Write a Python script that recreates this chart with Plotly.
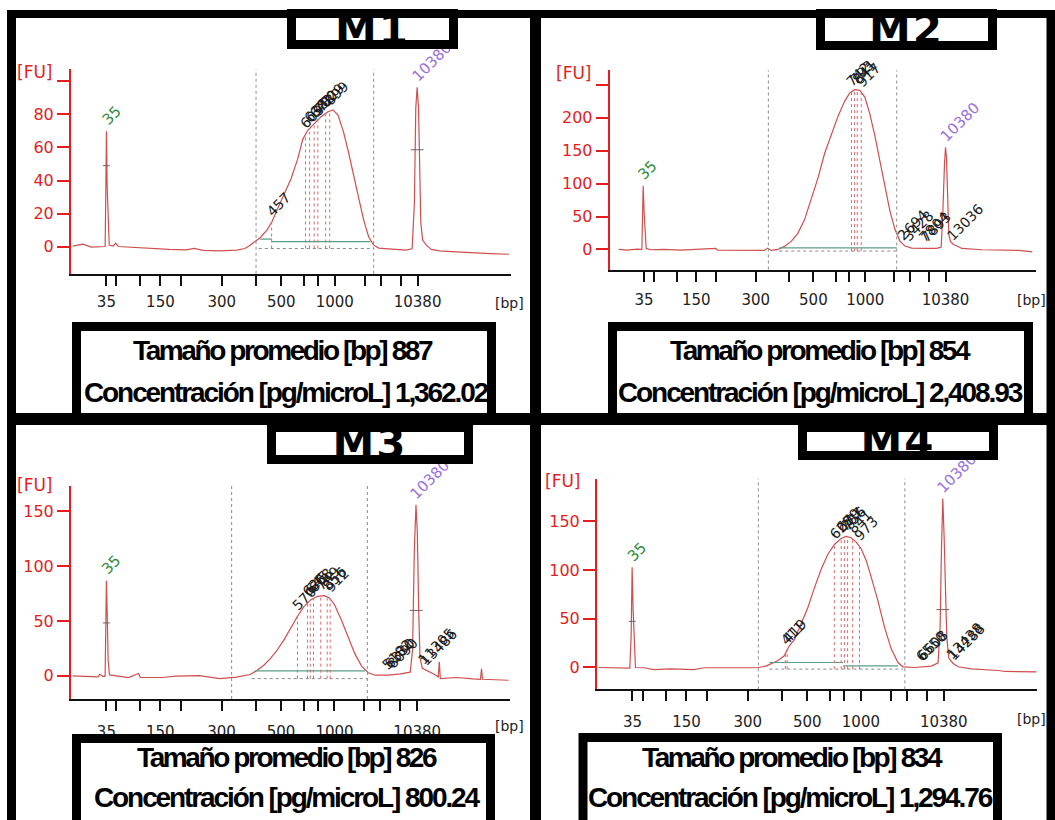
import plotly.graph_objects as go

W, H = 1055, 820

# ---------------------------------------------------------------- data ----
# DNA ladder: fragment sizes and their migration times (s)
ladder_bp = [35, 50, 100, 150, 200, 300, 400, 500, 600, 700, 1000, 2000, 3000, 7000, 10380]
ladder_time = [43.0, 45.2, 50.4, 54.8, 59.3, 68.2, 75.7, 81.2, 86.2, 89.2, 92.9, 99.4, 102.9, 107.3, 111.0]
x_tick_text = ["35", "", "", "150", "", "300", "", "500", "", "", "1000", "", "", "", "10380"]
time_range = [35.26, 131.3]

sample_names = ["M1", "M2", "M3", "M4"]
mean_size_bp = [887, 854, 826, 834]
concentration_pg_ul = [1362.02, 2408.93, 800.24, 1294.76]

# electropherogram traces: migration time (s) vs fluorescence (FU)
m1_time = [35.62, 37.84, 39.69, 41.91, 42.72, 42.87, 43.01, 43.16, 43.38, 43.61, 44.49, 45.01, 45.6,
           49.3, 53.0, 56.7, 60.4, 62.2, 64.1, 67.8, 71.5, 73.3, 74.4, 75.5, 76.6, 78.1, 79.2, 80.3,
           81.8, 83.3, 84.8, 85.9, 87.0, 88.5, 89.9, 91.4, 92.5, 93.6, 94.8, 95.9, 97.0, 98.1, 99.2,
           100.3, 101.4, 102.5, 104.7, 108.4, 109.8, 110.3, 110.6, 110.9, 111.2, 111.4, 111.7, 112.1,
           112.9, 114.0, 115.8, 119.5, 123.2, 126.9, 131.0]
m1_fu = [0.4, 1.6, -0.2, 0.2, 0.2, 34.7, 69.8, 36.7, 18.4, 1.0, 0.4, 2.2, 0.2,
         -0.4, -1.2, -1.6, -1.8, -1.0, -2.2, -2.4, -2.0, -1.0, 1.0, 3.5, 5.5, 10.2, 15.3, 22.4,
         31.6, 40.8, 53.1, 64.9, 70.4, 74.5, 78.6, 81.6, 82.7, 79.6, 69.4, 57.1, 42.9, 28.6, 16.3,
         6.1, 1.0, -0.8, -1.4, -2.0, -1.2, 26.5, 83.7, 96.3, 83.7, 42.9, 14.3, 4.1,
         1.0, -1.6, -2.4, -3.1, -3.7, -4.1, -4.5]

m2_time = [37.30, 39.19, 41.45, 42.51, 42.66, 42.81, 43.04, 43.26, 43.49, 44.47, 47.49, 51.27, 55.04,
           59.2, 59.57, 64.1, 70.15, 70.90, 71.66, 73.17, 74.68, 76.19, 77.70, 79.21, 80.72, 82.23,
           83.74, 85.25, 86.76, 88.27, 89.40, 90.53, 91.67, 92.80, 93.93, 95.06, 96.20, 97.33, 98.46,
           99.59, 100.73, 101.86, 103.37, 106.39, 109.03, 110.02, 110.39, 110.77, 111.0, 111.22,
           111.45, 111.75, 112.13, 112.81, 113.94, 114.70, 119.23, 123.0, 127.54, 130.56]
m2_fu = [0.0, -1.0, 0.5, 0.0, 48.3, 96.7, 53.4, 22.9, 1.5, -0.5, 0.0, -1.0, 0.0,
         1.5, -1.0, -1.5, -1.5, 2.0, -1.5, 0.0, 4.6, 12.2, 24.4, 45.3, 75.3, 108.4,
         146.1, 174.6, 202.5, 225.4, 237.7, 242.7, 241.7, 231.6, 206.1, 173.0, 134.9, 94.1, 58.5,
         30.5, 12.7, 5.1, 2.0, 1.5, 1.5, 3.6, 53.4, 129.8, 155.2, 140.0,
         94.1, 22.9, 11.7, 7.6, 4.1, 1.5, -0.5, -0.5, -1.5, -3.6]

m3_time = [35.62, 41.17, 41.54, 42.28, 42.72, 42.87, 43.01, 43.16, 43.38, 43.68, 46.34, 47.82, 50.04,
           50.41, 55.21, 58.17, 63.34, 67.78, 71.47, 74.43, 75.91, 77.39, 78.87, 80.34, 81.82, 83.30,
           84.78, 86.26, 87.74, 89.21, 90.69, 91.80, 92.91, 94.39, 95.87, 97.35, 98.83, 100.30,
           101.78, 104.74, 107.33, 109.47, 109.99, 110.36, 110.73, 111.02, 111.32, 111.61, 112.13,
           113.24, 114.72, 115.6, 115.83, 116.05, 119.52, 123.22, 124.84, 125.07, 125.29, 130.98]
m3_fu = [0.0, -0.9, 1.5, -0.6, -0.3, 45.2, 86.8, 60.6, 14.5, 0.9, -0.9, -1.5, 2.2,
         -1.5, -1.5, -0.3, 0.3, -2.5, -1.2, 1.2, 4.9, 9.5, 15.7, 23.4, 32.6, 43.4,
         54.2, 63.4, 69.5, 72.6, 73.2, 71.1, 64.9, 51.1, 35.7, 20.3, 8.9, 2.8,
         0.6, 0.6, 1.8, 3.4, 23.7, 112.9, 156.0, 131.4, 60.6, 16.0, 6.8,
         4.6, 1.5, -0.9, 12.9, -2.5, -1.5, -2.8, -3.1, 6.5, -3.1, -4.0]

m4_time = [35.63, 38.91, 42.42, 42.71, 42.93, 43.15, 43.37, 43.66, 45.49, 47.68, 51.33, 56.44, 58.63,
           64.48, 70.32, 72.15, 73.24, 74.70, 76.16, 77.26, 78.35, 79.81, 81.28, 82.74, 84.20, 85.66,
           87.12, 88.58, 89.68, 90.77, 91.87, 92.96, 94.06, 95.15, 96.61, 98.07, 99.54, 101.0,
           102.09, 104.65, 108.30, 109.76, 110.20, 110.49, 110.79, 111.08, 111.37, 111.66, 112.10,
           113.05, 114.14, 117.06, 122.91, 124.37, 131.31]
m4_fu = [0.0, -0.3, -0.7, 30.9, 103.0, 58.4, 27.5, 0.0, -0.3, -2.1, -1.4, -2.1, -0.3,
         -0.3, -0.3, 1.4, 3.4, 6.9, 12.0, 22.3, 28.2, 43.9, 61.1, 81.7, 100.6, 116.0,
         126.3, 132.5, 134.6, 133.2, 128.7, 121.9, 109.9, 92.7, 68.7, 41.2, 18.9, 5.1,
         0.7, 0.0, 1.4, 4.8, 41.2, 120.2, 173.4, 133.9, 92.7, 30.9, 9.6,
         4.1, 0.7, -1.4, -3.1, -4.1, -4.5]

# y-axis ticks (FU); the top tick carries no number
m1_yticks = [0, 20, 40, 60, 80, 100]
m2_yticks = [0, 50, 100, 150, 200, 250]
m3_yticks = [0, 50, 100, 150]
m4_yticks = [0, 50, 100, 150]
m1_ytick_text = ["0", "20", "40", "60", "80", ""]
m2_ytick_text = ["0", "50", "100", "150", "200", ""]
m3_ytick_text = ["0", "50", "100", "150"]
m4_ytick_text = ["0", "50", "100", "150"]

# smear region boundaries (s)
m1_region = [75.7, 101.4]
m2_region = [71.05, 100.0]
m3_region = [70.4, 100.1]
m4_region = [70.5, 102.5]

# called peaks inside the smear: time, apex FU, size label
m1_peak_time = [79.1, 86.5, 87.4, 88.4, 89.2, 90.9, 91.8]
m1_peak_fu = [15.0, 67.8, 71.4, 74.3, 76.5, 80.6, 82.0]
m1_peak_label = ["457", "609", "638", "672", "700", "829", "899"]
m2_peak_time = [89.8, 90.5, 91.1, 92.0]
m2_peak_fu = [238.5, 242.5, 242.2, 238.0]
m2_peak_label = ["742", "793", "841", "917"]
m3_peak_time = [84.8, 87.0, 87.6, 88.3, 89.9, 91.3, 91.95]
m3_peak_fu = [54.2, 67.2, 69.0, 71.0, 72.9, 72.2, 70.5]
m3_peak_label = ["570", "625", "645", "668", "749", "856", "912"]
m4_peak_time = [76.4, 76.8, 87.1, 88.6, 89.3, 90.0, 91.1, 92.6]
m4_peak_fu = [17.0, 19.0, 126.0, 132.5, 134.0, 134.3, 131.8, 124.0]
m4_peak_label = ["411", "419", "628", "679", "707", "756", "841", "973"]

# small high-molecular-weight peaks
m2_hmw_time = [101.3, 102.6, 106.0, 106.5, 112.5]
m2_hmw_fu = [4.5, 2.5, 2.0, 2.0, 4.2]
m2_hmw_label = ["2694", "3428", "7804", "7893", "13036"]
m3_hmw_time = [104.4, 105.0, 105.6, 112.3, 112.8]
m3_hmw_fu = [0.8, 1.0, 1.2, 5.0, 4.5]
m3_hmw_label = ["5182", "6330", "8090", "11305", "13486"]
m4_hmw_time = [106.0, 106.4, 112.6, 113.0]
m4_hmw_fu = [0.5, 0.8, 2.5, 1.5]
m4_hmw_label = ["6550", "6608", "13438", "14288"]

# integration baselines: start, end, level (FU)
m1_base_t0, m1_base_t1, m1_base_fu = [76.6, 79.2], [79.2, 100.7], [4.7, 3.1]
m2_base_t0, m2_base_t1, m2_base_fu = [73.5], [100.0], [2.5]
m3_base_t0, m3_base_t1, m3_base_fu = [75.5], [99.6], [4.6]
m4_base_t0, m4_base_t1, m4_base_fu = [72.9, 89.0], [89.0, 101.0], [5.1, 1.7]
m1_floor = [76.3, 101.4, -1.0]
m2_floor = [73.5, 100.0, -2.5]
m3_floor = [74.8, 100.1, -2.5]
m4_floor = [72.9, 102.1, -1.7]

# marker peak crosses (time, FU)
m1_cross_time, m1_cross_fu = [43.0, 110.9], [49.0, 58.6]
m2_cross_time, m2_cross_fu = [], []
m3_cross_time, m3_cross_fu = [43.0, 110.8], [48.3, 59.7]
m4_cross_time, m4_cross_fu = [42.95, 110.8], [47.4, 59.4]

# ---------------------------------------------------------------- styles --
TRACE_RED = "#cf4f4f"
AXIS_RED = "#e31e1e"
PEAK_DOT = "#d86a6a"
REGION_GREY = "#8c8c8c"
BASE_GREEN = "#5d9c86"
MARKER_GREEN = "#2f8b3b"
MARKER_PURPLE = "#9b6fe2"
NUM_FONT = "DejaVu Sans"
BOX_FONT = "Liberation Sans, Arial, sans-serif"

# panel geometry in page pixels
geometry = [
    dict(plot_x=(71, 510.5), plot_y=(69.3, 273.8), y_range=(-16.3, 107.2), fu=(34.5, 72), bp=(509, 303),
         standoff=3, title=(287, 9, 458, 49), info=(76.5, 326.5, 491.5, 418), lines=(283, 351, 286, 392)),
    dict(plot_x=(609.7, 1035.5), plot_y=(70.3, 269.5), y_range=(-30.5, 272.2), fu=(574, 73.5), bp=(1031, 300),
         standoff=5, title=(816, 9, 997, 50), info=(612.5, 326.5, 1028.5, 418), lines=(820, 351, 820, 392)),
    dict(plot_x=(71, 510), plot_y=(486, 699), y_range=(-21.1, 173.2), fu=(34.5, 485), bp=(509, 726),
         standoff=8, title=(267, 423, 473, 464), info=(76.5, 738.5, 490.5, 850), lines=(287, 757, 287, 797)),
    dict(plot_x=(597, 1036.7), plot_y=(478.6, 689.3), y_range=(-22.4, 193.9), fu=(562.5, 481), bp=(1031, 719),
         standoff=8, title=(798, 423, 998, 460), info=(583, 737.5, 997.5, 850), lines=(792, 757, 790, 797)),
]

panels = [
    dict(time=m1_time, fu=m1_fu, yt=m1_yticks, ytt=m1_ytick_text, region=m1_region,
         pt=m1_peak_time, pf=m1_peak_fu, pl=m1_peak_label, ht=[], hf=[], hl=[],
         b0=m1_base_t0, b1=m1_base_t1, bf=m1_base_fu, floor=m1_floor, ct=m1_cross_time, cf=m1_cross_fu),
    dict(time=m2_time, fu=m2_fu, yt=m2_yticks, ytt=m2_ytick_text, region=m2_region,
         pt=m2_peak_time, pf=m2_peak_fu, pl=m2_peak_label, ht=m2_hmw_time, hf=m2_hmw_fu, hl=m2_hmw_label,
         b0=m2_base_t0, b1=m2_base_t1, bf=m2_base_fu, floor=m2_floor, ct=m2_cross_time, cf=m2_cross_fu),
    dict(time=m3_time, fu=m3_fu, yt=m3_yticks, ytt=m3_ytick_text, region=m3_region,
         pt=m3_peak_time, pf=m3_peak_fu, pl=m3_peak_label, ht=m3_hmw_time, hf=m3_hmw_fu, hl=m3_hmw_label,
         b0=m3_base_t0, b1=m3_base_t1, bf=m3_base_fu, floor=m3_floor, ct=m3_cross_time, cf=m3_cross_fu),
    dict(time=m4_time, fu=m4_fu, yt=m4_yticks, ytt=m4_ytick_text, region=m4_region,
         pt=m4_peak_time, pf=m4_peak_fu, pl=m4_peak_label, ht=m4_hmw_time, hf=m4_hmw_fu, hl=m4_hmw_label,
         b0=m4_base_t0, b1=m4_base_t1, bf=m4_base_fu, floor=m4_floor, ct=m4_cross_time, cf=m4_cross_fu),
]


def px(x):
    return x / W


def py(y):
    return 1 - y / H


def tilted(text, x, y, xref, yref, color, size):
    # rotated size label whose lower-left end sits just above the peak apex
    diag = 0.354 * len(text) * 0.62 * size
    return dict(text=text, x=x, y=y, xref=xref, yref=yref, showarrow=False, textangle=-45,
                xanchor="center", yanchor="middle", xshift=diag - 2, yshift=diag + 9,
                font=dict(family=NUM_FONT, size=size, color=color))


def tight(text, spacing):
    # bold, tightly tracked text for the summary boxes
    return f'<span style="letter-spacing:{spacing}px"><b>{text}</b></span>'


fig = go.Figure()
layout = {}
shapes = []
labels = []
covers = []

for i, (p, g) in enumerate(zip(panels, geometry)):
    sfx = "" if i == 0 else str(i + 1)
    xa, ya = "x" + sfx, "y" + sfx

    fig.add_trace(go.Scatter(x=p["time"], y=p["fu"], mode="lines", xaxis=xa, yaxis=ya,
                             line=dict(color=TRACE_RED, width=1.2), hoverinfo="skip", showlegend=False))

    layout["xaxis" + sfx] = dict(
        domain=[px(g["plot_x"][0]), px(g["plot_x"][1])], range=time_range, anchor=ya,
        showline=True, linecolor="#111111", linewidth=2, ticks="outside", ticklen=10,
        tickwidth=2, tickcolor="#111111", tickvals=ladder_time, ticktext=x_tick_text,
        ticklabelstandoff=g["standoff"],
        tickfont=dict(family=NUM_FONT, size=15, color="#222222"), showgrid=False, zeroline=False)
    layout["yaxis" + sfx] = dict(
        domain=[py(g["plot_y"][1]), py(g["plot_y"][0])], range=list(g["y_range"]), anchor=xa,
        showline=True, linecolor=AXIS_RED, linewidth=2, ticks="outside", ticklen=12,
        tickwidth=2, tickcolor=AXIS_RED, tickvals=p["yt"], ticktext=p["ytt"],
        tickfont=dict(family=NUM_FONT, size=16, color=AXIS_RED), showgrid=False, zeroline=False)

    # smear region limits
    for t in p["region"]:
        shapes.append(dict(type="line", xref=xa, yref=ya + " domain", x0=t, x1=t, y0=0, y1=1,
                           line=dict(color=REGION_GREY, width=1, dash="dot")))
    # integration floor and baselines
    f0, f1, fv = p["floor"]
    shapes.append(dict(type="line", xref=xa, yref=ya, x0=f0, x1=f1, y0=fv, y1=fv,
                       line=dict(color="#888888", width=1, dash="dot")))
    for t0, t1, v in zip(p["b0"], p["b1"], p["bf"]):
        shapes.append(dict(type="line", xref=xa, yref=ya, x0=t0, x1=t1, y0=v, y1=v,
                           line=dict(color=BASE_GREEN, width=1.2)))
    # peak drop lines and size labels
    for t, v, lab in zip(p["pt"], p["pf"], p["pl"]):
        shapes.append(dict(type="line", xref=xa, yref=ya, x0=t, x1=t, y0=fv, y1=v,
                           line=dict(color=PEAK_DOT, width=1, dash="dot")))
        labels.append(tilted(lab, t, v, xa, ya, "#1a1a1a", 14))
    for t, v, lab in zip(p["ht"], p["hf"], p["hl"]):
        labels.append(tilted(lab, t, v, xa, ya, "#1a1a1a", 14))
    # marker crosses
    for t, v in zip(p["ct"], p["cf"]):
        half = 0.75 if t < 50 else 1.4
        shapes.append(dict(type="line", xref=xa, yref=ya, x0=t - half, x1=t + half, y0=v, y1=v,
                           line=dict(color="#666666", width=1)))

    # lower / upper marker labels at the marker apex
    lo = max((v, t) for t, v in zip(p["time"], p["fu"]) if t < 46)
    hi = max((v, t) for t, v in zip(p["time"], p["fu"]) if 108 < t < 114)
    labels.append(tilted(str(ladder_bp[0]), lo[1], lo[0], xa, ya, MARKER_GREEN, 15))
    labels.append(tilted(str(ladder_bp[-1]), hi[1], hi[0], xa, ya, MARKER_PURPLE, 15))

    # axis captions
    labels.append(dict(text="[FU]", x=px(g["fu"][0]), y=py(g["fu"][1]), xref="paper", yref="paper",
                       showarrow=False, xanchor="center", yanchor="middle",
                       font=dict(family=NUM_FONT, size=17, color=AXIS_RED)))
    labels.append(dict(text="[bp]", x=px(g["bp"][0]), y=py(g["bp"][1]), xref="paper", yref="paper",
                       showarrow=False, xanchor="center", yanchor="middle",
                       font=dict(family=NUM_FONT, size=14, color="#222222")))

    # summary box
    x0, y0, x1, y1 = g["info"]
    shapes.append(dict(type="rect", xref="paper", yref="paper", x0=px(x0), x1=px(x1), y0=py(y1), y1=py(y0),
                       line=dict(color="black", width=9), fillcolor="white", layer="above"))
    lx1, ly1, lx2, ly2 = g["lines"]
    labels.append(dict(text=tight(f"Tamaño promedio [bp] {mean_size_bp[i]}", -2.4),
                       x=px(lx1), y=py(ly1), xref="paper", yref="paper", showarrow=False,
                       xanchor="center", yanchor="middle",
                       font=dict(family=BOX_FONT, size=28, color="black")))
    labels.append(dict(text=tight(f"Concentración [pg/microL] {concentration_pg_ul[i]:,.2f}", -2.1),
                       x=px(lx2), y=py(ly2), xref="paper", yref="paper", showarrow=False,
                       xanchor="center", yanchor="middle",
                       font=dict(family=BOX_FONT, size=28, color="black")))

    # sample tag box (drawn last so it hides whatever sits beneath it)
    tx0, ty0, tx1, ty1 = g["title"]
    bw = 9
    covers.append(dict(text=f'<span style="letter-spacing:2px"><b>{sample_names[i]}</b></span>',
                       x=px((tx0 + tx1) / 2), y=py((ty0 + ty1) / 2),
                       xref="paper", yref="paper", showarrow=False, xanchor="center", yanchor="middle",
                       width=tx1 - tx0 - 2 * bw, height=ty1 - ty0 - 2 * bw, bgcolor="white",
                       bordercolor="black", borderwidth=bw, borderpad=0,
                       font=dict(family="DejaVu Sans", size=42, color="black")))

# frame and dividers
frame = [
    (7, 14, 1055, 14, 8),
    (11.5, 10, 11.5, 820, 9),
    (1051, 10, 1051, 820, 9),
    (535.5, 10, 535.5, 820, 11),
    (7, 419, 1055, 419, 12),
]
for x0, y0, x1, y1, w in frame:
    shapes.append(dict(type="line", xref="paper", yref="paper", x0=px(x0), x1=px(x1), y0=py(y0), y1=py(y1),
                       line=dict(color="black", width=w), layer="above"))

fig.update_layout(
    width=W, height=H, margin=dict(l=0, r=0, t=0, b=0),
    paper_bgcolor="white", plot_bgcolor="white", showlegend=False,
    shapes=shapes, annotations=labels + covers, **layout)

fig.write_html("out.html")
